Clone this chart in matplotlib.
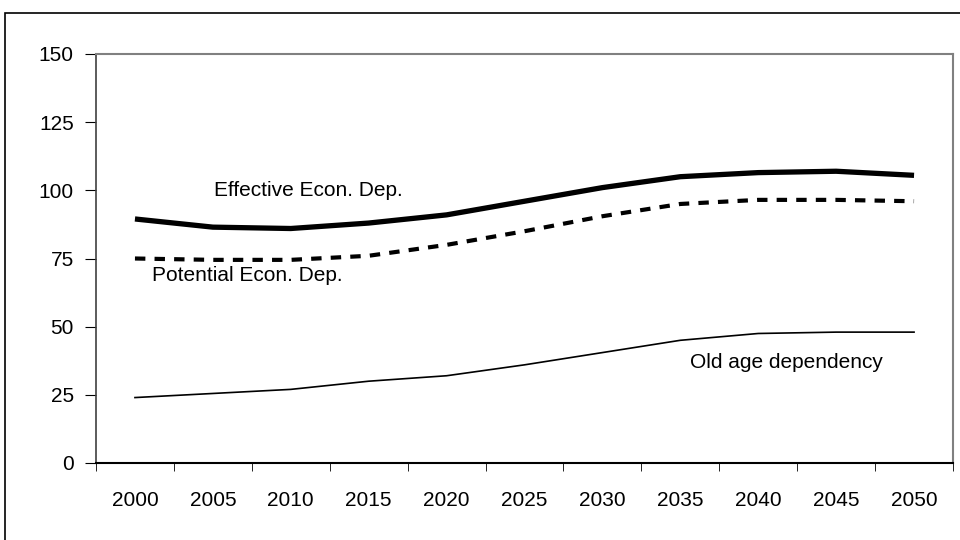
import matplotlib
matplotlib.use("Agg")
import matplotlib.pyplot as plt
from matplotlib.patches import Rectangle

years = ["2000", "2005", "2010", "2015", "2020", "2025", "2030", "2035", "2040", "2045", "2050"]
effective = [89.5, 86.5, 86, 88, 91, 96, 101, 105, 106.5, 107, 105.5]
potential = [75, 74.5, 74.5, 76, 80, 85, 90.5, 95, 96.5, 96.5, 96]
old_age = [24, 25.5, 27, 30, 32, 36, 40.5, 45, 47.5, 48, 48]
yticks = [0, 25, 50, 75, 100, 125, 150]

plt.rcParams['font.family'] = ['Liberation Sans', 'DejaVu Sans']
FS = 15

W, H = 960, 540
fig = plt.figure(figsize=(9.6, 5.4), dpi=100)
fig.patch.set_facecolor('white')

# outer chart frame (extends past right/bottom edges)
fig.add_artist(Rectangle((5 / W, -0.1), 1.2, 1.1 - 12.5 / H, transform=fig.transFigure,
                         fill=False, edgecolor='black', linewidth=1.2))

left, right, top, bottom = 96, 953, 54, 463
ax = fig.add_axes([left / W, 1 - bottom / H, (right - left) / W, (bottom - top) / H])

x = list(range(len(years)))
ax.plot(x, effective, color='black', linewidth=3.8, solid_capstyle='butt')
ax.plot(x, potential, color='black', linewidth=3.0, linestyle=(0, (2.5, 2.2)), dash_capstyle='butt')
ax.plot(x, old_age, color='black', linewidth=1.2)

ax.set_xlim(-0.5, len(years) - 0.5)
ax.set_ylim(0, 150)
ax.set_yticks(yticks)
ax.set_yticklabels([str(v) for v in yticks], fontsize=FS)
ax.set_xticks(x)
ax.set_xticklabels(years, fontsize=FS)
ax.tick_params(axis='x', length=0, pad=20)
ax.set_xticks([i - 0.5 for i in range(len(years) + 1)], minor=True)
ax.tick_params(axis='x', which='minor', length=6, direction='out', color='black')
ax.tick_params(axis='y', length=8, direction='out', pad=8, color='black')

for s in ['top', 'right']:
    ax.spines[s].set_color('#808080')
    ax.spines[s].set_linewidth(1.5)
ax.spines['left'].set_color('#404040')
ax.spines['left'].set_linewidth(1.2)
ax.spines['bottom'].set_color('black')
ax.spines['bottom'].set_linewidth(1.5)

ax.text(2.22, 100, "Effective Econ. Dep.", fontsize=FS, ha='center', va='center')
ax.text(1.44, 68.6, "Potential Econ. Dep.", fontsize=FS, ha='center', va='center')
ax.text(8.36, 37, "Old age dependency", fontsize=FS, ha='center', va='center')

fig.savefig("out.png", dpi=100, facecolor='white')
